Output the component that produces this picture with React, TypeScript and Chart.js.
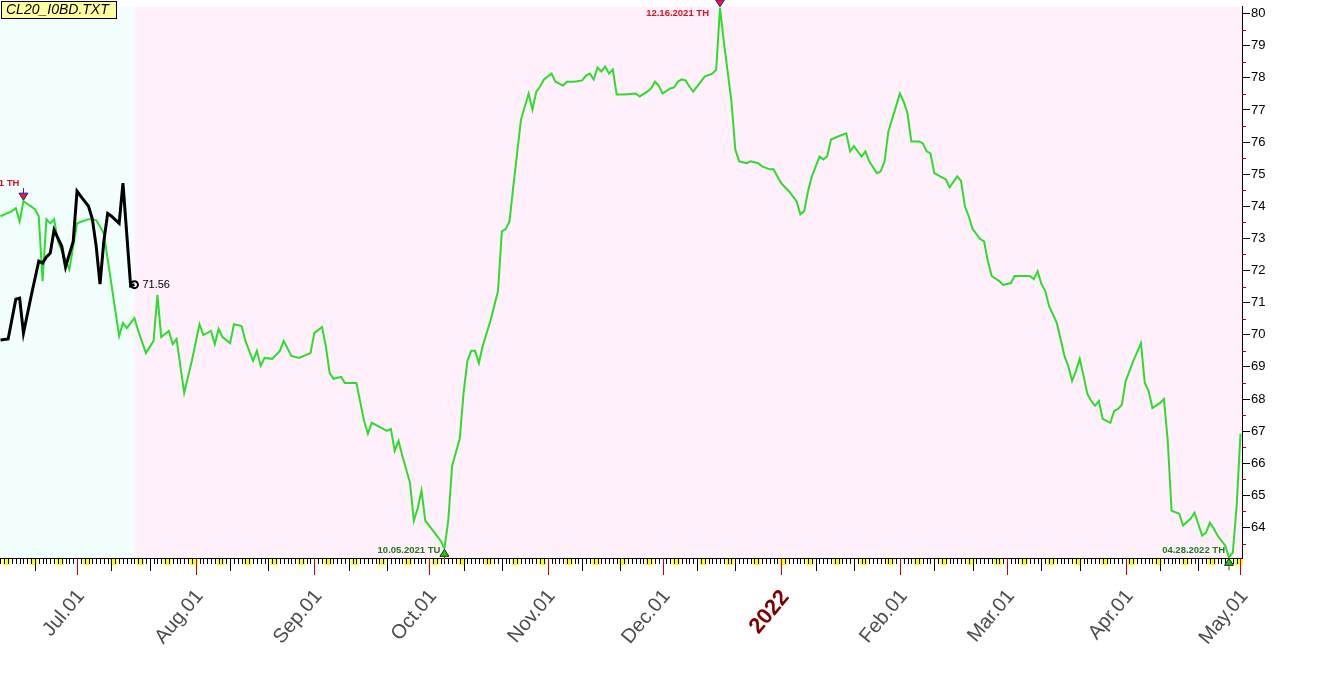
import React, { useEffect, useRef } from "react";
import { Chart, registerables } from "chart.js";

Chart.register(...registerables);

const FONT = "'Liberation Sans', Arial, Helvetica, sans-serif";

const titleText = "CL20_I0BD.TXT";

// main series (green)
const greenDates = [
  "2021-06-11","2021-06-14","2021-06-15","2021-06-16","2021-06-17","2021-06-20","2021-06-21","2021-06-22","2021-06-23","2021-06-24",
  "2021-06-25","2021-06-26","2021-06-29","2021-07-01","2021-07-04","2021-07-06","2021-07-08","2021-07-12","2021-07-13","2021-07-14",
  "2021-07-16","2021-07-17","2021-07-19","2021-07-21","2021-07-22","2021-07-23","2021-07-25","2021-07-26","2021-07-27","2021-07-29",
  "2021-07-31","2021-08-02","2021-08-03","2021-08-05","2021-08-06","2021-08-07","2021-08-08","2021-08-10","2021-08-11","2021-08-13",
  "2021-08-14","2021-08-16","2021-08-17","2021-08-18","2021-08-19","2021-08-21","2021-08-23","2021-08-24","2021-08-26","2021-08-28",
  "2021-08-31","2021-09-01","2021-09-03","2021-09-04","2021-09-05","2021-09-06","2021-09-08","2021-09-09","2021-09-12","2021-09-14",
  "2021-09-15","2021-09-16","2021-09-18","2021-09-20","2021-09-21","2021-09-22","2021-09-23","2021-09-24","2021-09-26","2021-09-27",
  "2021-09-28","2021-09-29","2021-09-30","2021-10-01","2021-10-03","2021-10-04","2021-10-05","2021-10-06","2021-10-07","2021-10-09",
  "2021-10-10","2021-10-11","2021-10-12","2021-10-13","2021-10-14","2021-10-15","2021-10-17","2021-10-19","2021-10-20","2021-10-21",
  "2021-10-22","2021-10-23","2021-10-25","2021-10-27","2021-10-28","2021-10-29","2021-10-30","2021-10-31","2021-11-02","2021-11-03",
  "2021-11-05","2021-11-06","2021-11-08","2021-11-10","2021-11-11","2021-11-12","2021-11-13","2021-11-14","2021-11-15","2021-11-16",
  "2021-11-17","2021-11-18","2021-11-19","2021-11-21","2021-11-24","2021-11-25","2021-11-27","2021-11-28","2021-11-29","2021-11-30",
  "2021-12-01","2021-12-03","2021-12-04","2021-12-05","2021-12-06","2021-12-07","2021-12-08","2021-12-09","2021-12-11","2021-12-12",
  "2021-12-14","2021-12-15","2021-12-16","2021-12-17","2021-12-19","2021-12-20","2021-12-21","2021-12-23","2021-12-24","2021-12-26",
  "2021-12-27","2021-12-29","2021-12-30","2021-12-31","2022-01-01","2022-01-03","2022-01-05","2022-01-06","2022-01-07","2022-01-08",
  "2022-01-09","2022-01-11","2022-01-12","2022-01-13","2022-01-14","2022-01-16","2022-01-18","2022-01-19","2022-01-20","2022-01-22",
  "2022-01-23","2022-01-24","2022-01-26","2022-01-27","2022-01-28","2022-01-29","2022-01-31","2022-02-01","2022-02-02","2022-02-03",
  "2022-02-04","2022-02-06","2022-02-07","2022-02-08","2022-02-09","2022-02-10","2022-02-12","2022-02-13","2022-02-14","2022-02-16",
  "2022-02-17","2022-02-18","2022-02-19","2022-02-20","2022-02-22","2022-02-23","2022-02-24","2022-02-25","2022-02-27","2022-02-28",
  "2022-03-02","2022-03-03","2022-03-05","2022-03-07","2022-03-08","2022-03-09","2022-03-10","2022-03-11","2022-03-12","2022-03-14",
  "2022-03-15","2022-03-16","2022-03-17","2022-03-18","2022-03-19","2022-03-20","2022-03-21","2022-03-22","2022-03-23","2022-03-24",
  "2022-03-25","2022-03-26","2022-03-27","2022-03-28","2022-03-29","2022-03-30","2022-03-31","2022-04-01","2022-04-03","2022-04-05",
  "2022-04-06","2022-04-07","2022-04-08","2022-04-10","2022-04-11","2022-04-12","2022-04-13","2022-04-15","2022-04-16","2022-04-18",
  "2022-04-19","2022-04-21","2022-04-22","2022-04-23","2022-04-24","2022-04-25","2022-04-26","2022-04-27","2022-04-28","2022-04-29",
  "2022-04-30","2022-05-01"
];
const greenValues = [
  73.69,73.85,73.94,73.53,74.16,73.91,73.69,71.67,73.60,73.47,
  73.60,72.91,72.04,73.47,73.60,73.57,73.16,69.96,70.37,70.21,
  70.52,70.12,69.43,69.81,71.24,69.93,70.12,69.71,69.87,68.19,
  69.19,70.33,69.99,70.12,69.71,70.18,69.93,69.74,70.33,70.27,
  69.81,69.19,69.50,69.03,69.28,69.25,69.50,69.81,69.34,69.28,
  69.43,70.05,70.24,69.65,68.81,68.63,68.69,68.50,68.50,67.32,
  66.92,67.26,67.13,67.01,67.07,66.39,66.70,66.23,65.39,64.21,
  64.59,65.15,64.21,64.06,63.75,63.59,63.35,64.21,65.92,66.76,
  68.19,69.19,69.50,69.50,69.12,69.65,70.43,71.36,73.22,73.29,
  73.53,74.62,76.70,77.51,77.01,77.57,77.73,77.95,78.13,77.88,
  77.76,77.88,77.88,77.92,78.07,78.13,77.95,78.32,78.20,78.35,
  78.13,78.26,77.48,77.48,77.51,77.42,77.57,77.67,77.88,77.76,
  77.51,77.67,77.70,77.88,77.95,77.92,77.73,77.57,77.88,78.04,
  78.13,78.25,80.18,79.13,77.26,75.77,75.40,75.34,75.40,75.34,
  75.24,75.15,75.15,74.93,74.72,74.47,74.16,73.75,73.85,74.47,
  74.93,75.55,75.46,75.55,76.08,76.18,76.27,75.71,75.87,75.55,
  75.71,75.40,75.03,75.09,75.40,76.33,77.11,77.51,77.26,76.89,
  76.02,76.02,75.96,75.71,75.65,75.03,74.90,74.84,74.59,74.93,
  74.78,74.00,73.69,73.29,72.98,72.91,72.29,71.83,71.67,71.55,
  71.61,71.83,71.83,71.83,71.73,71.98,71.58,71.36,70.89,70.37,
  69.87,69.34,69.03,68.56,68.87,69.25,68.72,68.16,67.94,67.79,
  67.94,67.38,67.32,67.26,67.63,67.69,67.82,68.56,69.19,69.74,
  68.50,68.25,67.72,67.88,68.00,66.70,64.52,64.43,64.06,64.28,
  64.46,63.75,63.84,64.15,63.97,63.75,63.59,63.44,63.07,63.22,
  64.67,66.92
];

// overlay series (black)
const blackDates = [
  "2021-06-11","2021-06-13","2021-06-15","2021-06-16","2021-06-17","2021-06-19","2021-06-21","2021-06-22","2021-06-23","2021-06-24",
  "2021-06-25","2021-06-27","2021-06-28","2021-06-30","2021-07-01","2021-07-02","2021-07-04","2021-07-05","2021-07-06","2021-07-07",
  "2021-07-08","2021-07-09","2021-07-10","2021-07-12","2021-07-13","2021-07-15","2021-07-16"
];
const blackValues = [
  69.84,69.87,71.11,71.14,70.05,71.20,72.29,72.23,72.42,72.54,
  73.26,72.76,72.11,72.91,74.47,74.31,74.00,73.60,72.76,71.58,
  72.91,73.78,73.69,73.47,74.72,71.52,71.56
];

const monthTickDates = ["2021-07-01","2021-08-01","2021-09-01","2021-10-01","2021-11-01","2021-12-01","2022-01-01","2022-02-01","2022-03-01","2022-04-01","2022-05-01"];
const monthTickLabels = ["Jul.01","Aug.01","Sep.01","Oct.01","Nov.01","Dec.01","2022","Feb.01","Mar.01","Apr.01","May.01"];
const priceTicks = [64,65,66,67,68,69,70,71,72,73,74,75,76,77,78,79,80];

const peakDates = ["2021-06-17","2021-12-16"];
const peakLabels = ["06.17.2021 TH","12.16.2021 TH"];
const lowDates = ["2021-10-05","2022-04-28"];
const lowLabels = ["10.05.2021 TU","04.28.2022 TH"];

const BASE = Date.UTC(2021, 5, 1);
const DAY = 86400000;
const dayOf = (iso: string) => {
  const [y, m, d] = iso.split("-").map(Number);
  return (Date.UTC(y, m - 1, d) - BASE) / DAY;
};

const X_MIN = 9.87;
const X_MAX = 334.4;
const Y_MIN = 63.05;
const Y_MAX = 80.21;

const decorPlugin = {
  id: "decor",
  beforeDraw(chart: any) {
    const { ctx, chartArea: a } = chart;
    const xs = chart.scales.x;
    const split = xs.getPixelForValue(dayOf(blackDates[blackDates.length - 1]));
    ctx.save();
    ctx.fillStyle = "#f3ffff";
    ctx.fillRect(a.left, a.top, split - a.left, a.bottom - a.top);
    ctx.fillStyle = "#fff0fc";
    ctx.fillRect(split, a.top, a.right - split, a.bottom - a.top);
    ctx.restore();
  },
  afterDraw(chart: any) {
    const { ctx, chartArea: a } = chart;
    const xs = chart.scales.x;
    const ys = chart.scales.y;
    ctx.save();
    const d0 = Math.ceil(xs.min);
    const d1 = Math.floor(xs.max);
    // weekend blocks
    ctx.fillStyle = "#ffff00";
    for (let d = d0; d <= d1; d++) {
      const dow = new Date(BASE + d * DAY).getUTCDay();
      const px = xs.getPixelForValue(d);
      if (dow === 6) {
        const nx = xs.getPixelForValue(d + 1);
        ctx.fillRect(px - 1.5, a.bottom + 1, nx - px + 3.5, 6);
      } else if (dow === 0 && d === d0) {
        ctx.fillRect(px - 2, a.bottom + 1, 4, 6);
      }
    }
    // day ticks
    for (let d = d0; d <= d1; d++) {
      const dt = new Date(BASE + d * DAY);
      const dom = dt.getUTCDate();
      let len = 6;
      let color = "#000";
      if (dom === 1) { len = 17; color = "#cc0000"; }
      else if (dom === 10 || dom === 20) { len = 13; }
      const px = Math.round(xs.getPixelForValue(d)) + 0.5;
      ctx.strokeStyle = color;
      ctx.lineWidth = 1;
      ctx.beginPath();
      ctx.moveTo(px, a.bottom);
      ctx.lineTo(px, a.bottom + len);
      ctx.stroke();
    }
    // minor price ticks (half units)
    ctx.strokeStyle = "#c00000";
    for (let v = priceTicks[0] - 0.5; v <= priceTicks[priceTicks.length - 1] + 0.5; v += 1) {
      if (v < ys.min || v > ys.max) continue;
      const py = Math.round(ys.getPixelForValue(v)) + 0.5;
      ctx.beginPath();
      ctx.moveTo(a.right, py);
      ctx.lineTo(a.right + 4, py);
      ctx.stroke();
    }
    const gm = chart.getDatasetMeta(1);
    // peaks
    peakDates.forEach((pd, i) => {
      const el = gm.data[greenDates.indexOf(pd)];
      if (!el) return;
      const px = el.x, py = el.y;
      ctx.lineWidth = 1;
      ctx.strokeStyle = "#2020a0";
      ctx.beginPath();
      ctx.moveTo(px, py - 8);
      ctx.lineTo(px, py - 13);
      ctx.stroke();
      ctx.fillStyle = "#ff1030";
      ctx.beginPath();
      ctx.moveTo(px - 4.5, py - 8);
      ctx.lineTo(px + 4.5, py - 8);
      ctx.lineTo(px, py - 1);
      ctx.closePath();
      ctx.fill();
      ctx.stroke();
      const clamped = py - 18 < a.top + 7;
      ctx.font = `bold 9.5px ${FONT}`;
      ctx.fillStyle = "#e0101e";
      ctx.textAlign = "right";
      ctx.textBaseline = "middle";
      ctx.fillText(peakLabels[i], px - (clamped ? 11 : 4), clamped ? a.top + 7 : py - 18);
    });
    // lows
    lowDates.forEach((ld, i) => {
      const el = gm.data[greenDates.indexOf(ld)];
      if (!el) return;
      const px = el.x, py = el.y;
      ctx.lineWidth = 1;
      ctx.strokeStyle = "#804000";
      ctx.beginPath();
      ctx.moveTo(px, py + 8);
      ctx.lineTo(px, py + 13);
      ctx.stroke();
      ctx.fillStyle = "#10d010";
      ctx.strokeStyle = "#303000";
      ctx.beginPath();
      ctx.moveTo(px, py + 1);
      ctx.lineTo(px + 4.5, py + 8);
      ctx.lineTo(px - 4.5, py + 8);
      ctx.closePath();
      ctx.fill();
      ctx.stroke();
      ctx.font = `bold 9.5px ${FONT}`;
      ctx.fillStyle = "#1f7a1f";
      ctx.textAlign = "right";
      ctx.textBaseline = "middle";
      ctx.fillText(lowLabels[i], px - 4, Math.min(py + 18, a.bottom - 8));
    });
    // last value of overlay
    const bm = chart.getDatasetMeta(0);
    const last = bm.data[bm.data.length - 1];
    if (last) {
      ctx.font = `11px ${FONT}`;
      ctx.fillStyle = "#000";
      ctx.textAlign = "left";
      ctx.textBaseline = "middle";
      ctx.fillText(blackValues[blackValues.length - 1].toFixed(2), last.x + 8, last.y);
    }
    // title box
    ctx.fillStyle = "#ffffa0";
    ctx.fillRect(1.5, 1.5, 115, 17);
    ctx.strokeStyle = "#000";
    ctx.lineWidth = 1;
    ctx.strokeRect(1.5, 1.5, 115, 17);
    ctx.font = `italic 14px ${FONT}`;
    ctx.fillStyle = "#000";
    ctx.textAlign = "left";
    ctx.textBaseline = "middle";
    ctx.fillText(titleText, 6, 10.5);
    ctx.restore();
  },
};

export default function App() {
  const ref = useRef<HTMLCanvasElement>(null);
  useEffect(() => {
    if (!ref.current) return;
    const greenPoints = greenDates.map((d, i) => ({ x: dayOf(d), y: greenValues[i] }));
    const blackPoints = blackDates.map((d, i) => ({ x: dayOf(d), y: blackValues[i] }));
    const lastBlack = blackPoints.length - 1;
    const chart = new Chart(ref.current, {
      type: "line",
      data: {
        datasets: [
          {
            label: "overlay",
            data: blackPoints,
            borderColor: "#000",
            borderWidth: 3,
            tension: 0,
            pointRadius: (c: any) => (c.dataIndex === lastBlack ? 3.5 : 0),
            pointBorderWidth: 2,
            pointBorderColor: "#000",
            pointBackgroundColor: "rgba(255,255,255,0)",
          },
          {
            label: "CL20",
            data: greenPoints,
            borderColor: "#2ade2a",
            borderWidth: 2,
            tension: 0,
            pointRadius: 0,
          },
        ],
      },
      options: {
        animation: false,
        responsive: false,
        events: [],
        layout: { autoPadding: false, padding: { top: 6, left: 0, right: 0, bottom: 0 } },
        plugins: { legend: { display: false }, tooltip: { enabled: false } },
        scales: {
          x: {
            type: "linear",
            min: X_MIN,
            max: X_MAX,
            afterBuildTicks: (s: any) => {
              s.ticks = monthTickDates.map((d) => ({ value: dayOf(d) }));
            },
            afterFit: (s: any) => {
              s.height = 131;
            },
            grid: { display: false, drawTicks: true, tickLength: 27 },
            border: { display: true, color: "#000", width: 1 },
            ticks: {
              autoSkip: false,
              minRotation: 50,
              maxRotation: 50,
              padding: 0,
              labelOffset: 4,
              callback: (_v: any, i: number) => monthTickLabels[i],
              color: (c: any) => (monthTickDates[c.index]?.endsWith("-01-01") ? "#800000" : "#4d4d4d"),
              font: (c: any) =>
                monthTickDates[c.index]?.endsWith("-01-01")
                  ? { family: FONT, size: 22, weight: "bold" }
                  : { family: FONT, size: 20 },
            },
          },
          y: {
            type: "linear",
            position: "right",
            min: Y_MIN,
            max: Y_MAX,
            afterBuildTicks: (s: any) => {
              s.ticks = priceTicks.map((v) => ({ value: v }));
            },
            afterFit: (s: any) => {
              s.width = 77;
            },
            grid: { display: true, drawOnChartArea: false, drawTicks: true, tickLength: 8, color: "#000" },
            border: { display: true, color: "#000", width: 1 },
            ticks: {
              autoSkip: false,
              color: "#000",
              padding: 1,
              font: { family: FONT, size: 13, lineHeight: 0.9 },
            },
          },
        },
      },
      plugins: [decorPlugin],
    } as any);
    return () => chart.destroy();
  }, []);
  return (
    <div style={{ position: "fixed", left: 0, top: 0, width: 1319, height: 689, background: "#fff" }}>
      <canvas ref={ref} width={1319} height={689} style={{ display: "block", width: 1319, height: 689 }} />
    </div>
  );
}
